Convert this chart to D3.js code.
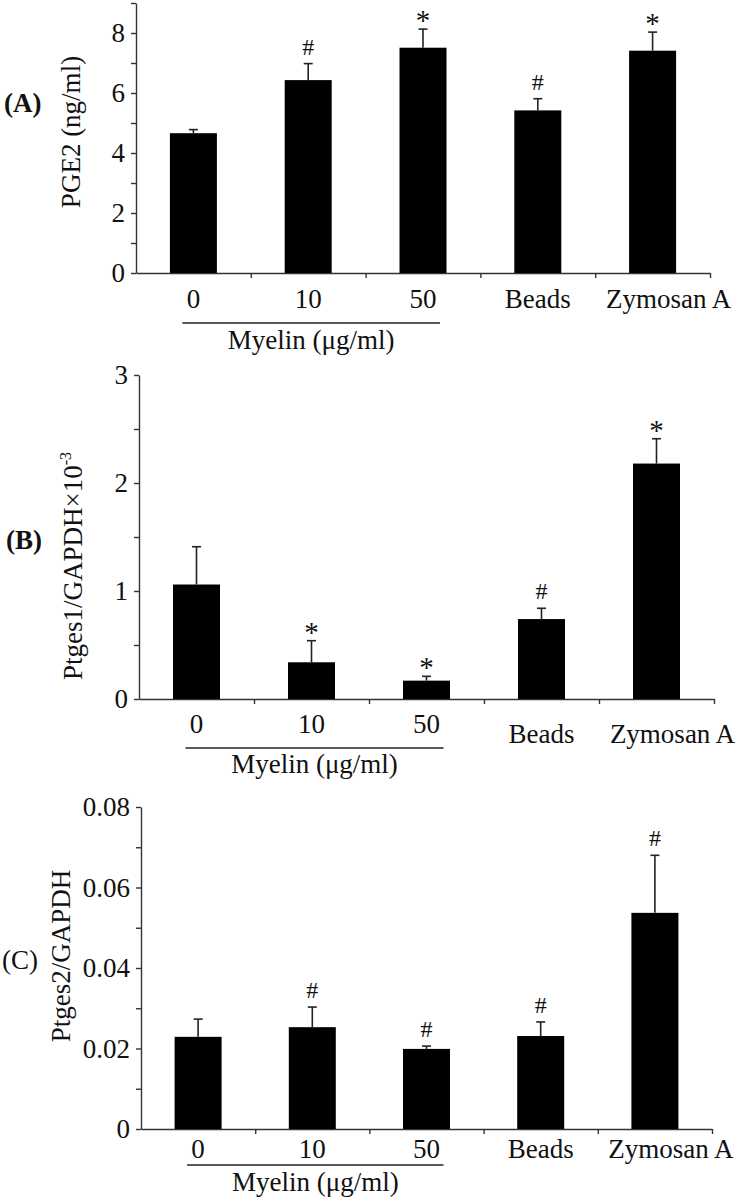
<!DOCTYPE html>
<html>
<head>
<meta charset="utf-8">
<script src="https://cdn.jsdelivr.net/npm/d3@7"></script>
<style>
  body { margin: 0; background: #fff; }
  svg { display: block; }
  text { font-family: "Liberation Serif", "Times New Roman", Times, serif; fill: #111; }
</style>
</head>
<body>
<script>
var w = 740;
var h = 1199;

// categories on the x axis
var categories = ["0", "10", "50", "Beads", "Zymosan A"];

// (A) PGE2 (ng/ml)
var pge2Mean = [4.66, 6.43, 7.51, 5.42, 7.41];
var pge2Err = [0.12, 0.55, 0.62, 0.39, 0.62];
var pge2Sig = ["", "#", "*", "#", "*"];
var pge2Ticks = [0, 2, 4, 6, 8];

// (B) Ptges1/GAPDH x10^-3
var ptges1Mean = [1.06, 0.34, 0.17, 0.74, 2.18];
var ptges1Err = [0.35, 0.20, 0.04, 0.10, 0.23];
var ptges1Sig = ["", "*", "*", "#", "*"];
var ptges1Ticks = [0, 1, 2, 3];

// (C) Ptges2/GAPDH
var ptges2Mean = [0.0229, 0.0253, 0.0199, 0.0231, 0.0537];
var ptges2Err = [0.0044, 0.0050, 0.0007, 0.0035, 0.0143];
var ptges2Sig = ["", "#", "#", "#", "#"];
var ptges2Ticks = [0, 0.02, 0.04, 0.06, 0.08];

var svg = d3.select("body")
    .append("svg")
    .attr("width", w)
    .attr("height", h);

svg.append("rect").attr("width", w).attr("height", h).attr("fill", "#fff");

var panels = [
    {
        label: "(A)", bold: true, labelX: 4, labelY: 112,
        yTitle: "PGE2 (ng/ml)", titleX: 80, titleY: 132,
        mean: pge2Mean, err: pge2Err, sig: pge2Sig,
        ticks: pge2Ticks, minor: 1, max: 9, fmt: d3.format("d"),
        left: 136, right: 710, bottom: 273, top: 3,
        catY: 308, lowLast: 0, lineY: 323, myelinY: 349
    },
    {
        label: "(B)", bold: true, labelX: 6, labelY: 549,
        yTitle: "Ptges1/GAPDH×10", sup: "-3", titleX: 82, titleY: 566,
        mean: ptges1Mean, err: ptges1Err, sig: ptges1Sig,
        ticks: ptges1Ticks, minor: 0.5, max: 3, fmt: d3.format("d"),
        left: 139, right: 714, bottom: 699, top: 375,
        catY: 733, lowLast: 10, lineY: 748, myelinY: 773
    },
    {
        label: "(C)", bold: false, labelX: 2, labelY: 969,
        yTitle: "Ptges2/GAPDH", titleX: 70, titleY: 956,
        mean: ptges2Mean, err: ptges2Err, sig: ptges2Sig,
        ticks: ptges2Ticks, minor: 0.01, max: 0.08, fmt: function(d) { return d === 0 ? "0" : d3.format(".2f")(d); },
        left: 141, right: 712, bottom: 1129, top: 807,
        catY: 1158, lowLast: 0, lineY: 1165, myelinY: 1191
    }
];

panels.forEach(function(p) {
    var g = svg.append("g");

    var yScale = d3.scaleLinear()
        .domain([0, p.max])
        .range([p.bottom, p.top]);

    var xScale = d3.scaleBand()
        .domain(categories)
        .range([p.left, p.right]);

    // boundaries between categories for the x ticks
    var xEdge = d3.scaleLinear()
        .domain([0, categories.length])
        .range([p.left, p.right]);

    var barW = 47;

    // y axis with minor ticks
    var allTicks = d3.range(0, p.max + p.minor / 2, p.minor);
    var yAxis = d3.axisLeft(yScale)
        .tickValues(allTicks)
        .tickSize(5)
        .tickSizeOuter(0)
        .tickPadding(6)
        .tickFormat(function(d) {
            var isMajor = p.ticks.some(function(t) { return Math.abs(t - d) < 1e-9; });
            return isMajor ? p.fmt(Math.round(d / p.minor) * p.minor) : "";
        });

    var ya = g.append("g")
        .attr("transform", "translate(" + p.left + ",0)")
        .call(yAxis);
    ya.attr("font-family", null).attr("font-size", null);
    ya.selectAll("text")
        .attr("font-size", 27)
        .attr("fill", "#111");
    ya.selectAll("path, line").attr("stroke", "#333").attr("stroke-width", 1.4);

    // x axis
    var xAxis = d3.axisBottom(xEdge)
        .tickValues(d3.range(1, categories.length + 1))
        .tickSize(5)
        .tickSizeOuter(0)
        .tickFormat("");

    var xa = g.append("g")
        .attr("transform", "translate(0," + p.bottom + ")")
        .call(xAxis);
    xa.selectAll("path, line").attr("stroke", "#333").attr("stroke-width", 1.4);

    // bars
    g.selectAll("rect.bar")
        .data(p.mean)
        .enter()
        .append("rect")
        .attr("class", "bar")
        .attr("x", function(d, i) {
            return xScale(categories[i]) + (xScale.bandwidth() - barW) / 2;
        })
        .attr("y", function(d) { return yScale(d); })
        .attr("width", barW)
        .attr("height", function(d) { return p.bottom - yScale(d); })
        .attr("fill", "#000");

    // error bars (upper only)
    var cx = function(i) { return xScale(categories[i]) + xScale.bandwidth() / 2; };

    g.selectAll("line.err")
        .data(p.mean)
        .enter()
        .append("line")
        .attr("class", "err")
        .attr("x1", function(d, i) { return cx(i); })
        .attr("x2", function(d, i) { return cx(i); })
        .attr("y1", function(d) { return yScale(d); })
        .attr("y2", function(d, i) { return yScale(d + p.err[i]); })
        .attr("stroke", "#222")
        .attr("stroke-width", 1.6);

    g.selectAll("line.cap")
        .data(p.mean)
        .enter()
        .append("line")
        .attr("class", "cap")
        .attr("x1", function(d, i) { return cx(i) - 4.5; })
        .attr("x2", function(d, i) { return cx(i) + 4.5; })
        .attr("y1", function(d, i) { return yScale(d + p.err[i]); })
        .attr("y2", function(d, i) { return yScale(d + p.err[i]); })
        .attr("stroke", "#222")
        .attr("stroke-width", 1.6);

    // significance marks
    g.selectAll("text.sig")
        .data(p.sig)
        .enter()
        .append("text")
        .attr("class", "sig")
        .attr("x", function(d, i) { return cx(i); })
        .attr("y", function(d, i) {
            var top = yScale(p.mean[i] + p.err[i]);
            return d === "*" ? top + 1 : top - 9;
        })
        .attr("text-anchor", "middle")
        .attr("font-size", function(d) { return d === "*" ? 29 : 24; })
        .attr("fill", "#222")
        .text(function(d) { return d; });

    // category labels
    g.selectAll("text.cat")
        .data(categories)
        .enter()
        .append("text")
        .attr("class", "cat")
        .attr("x", function(d, i) { return cx(i) + (i === 4 ? 16 : 0); })
        .attr("y", function(d, i) { return p.catY + (i >= 3 ? p.lowLast : 0); })
        .attr("text-anchor", "middle")
        .attr("font-size", 27)
        .text(function(d) { return d; });

    // myelin bracket
    var lx1 = cx(0) - 11;
    var lx2 = cx(2) + 17;
    g.append("line")
        .attr("x1", lx1).attr("x2", lx2)
        .attr("y1", p.lineY).attr("y2", p.lineY)
        .attr("stroke", "#222")
        .attr("stroke-width", 1.5);

    g.append("text")
        .attr("x", (lx1 + lx2) / 2)
        .attr("y", p.myelinY)
        .attr("text-anchor", "middle")
        .attr("font-size", 27)
        .text("Myelin (μg/ml)");

    // y title
    var t = g.append("text")
        .attr("transform", "translate(" + p.titleX + "," + p.titleY + ") rotate(-90)")
        .attr("text-anchor", "middle")
        .attr("font-size", 27)
        .text(p.yTitle);
    if (p.sup) {
        t.append("tspan")
            .attr("font-size", 16)
            .attr("dy", -11)
            .text(p.sup);
    }

    // panel letter
    g.append("text")
        .attr("x", p.labelX)
        .attr("y", p.labelY)
        .attr("font-size", 27)
        .attr("font-weight", p.bold ? "bold" : "normal")
        .text(p.label);
});
</script>
</body>
</html>
